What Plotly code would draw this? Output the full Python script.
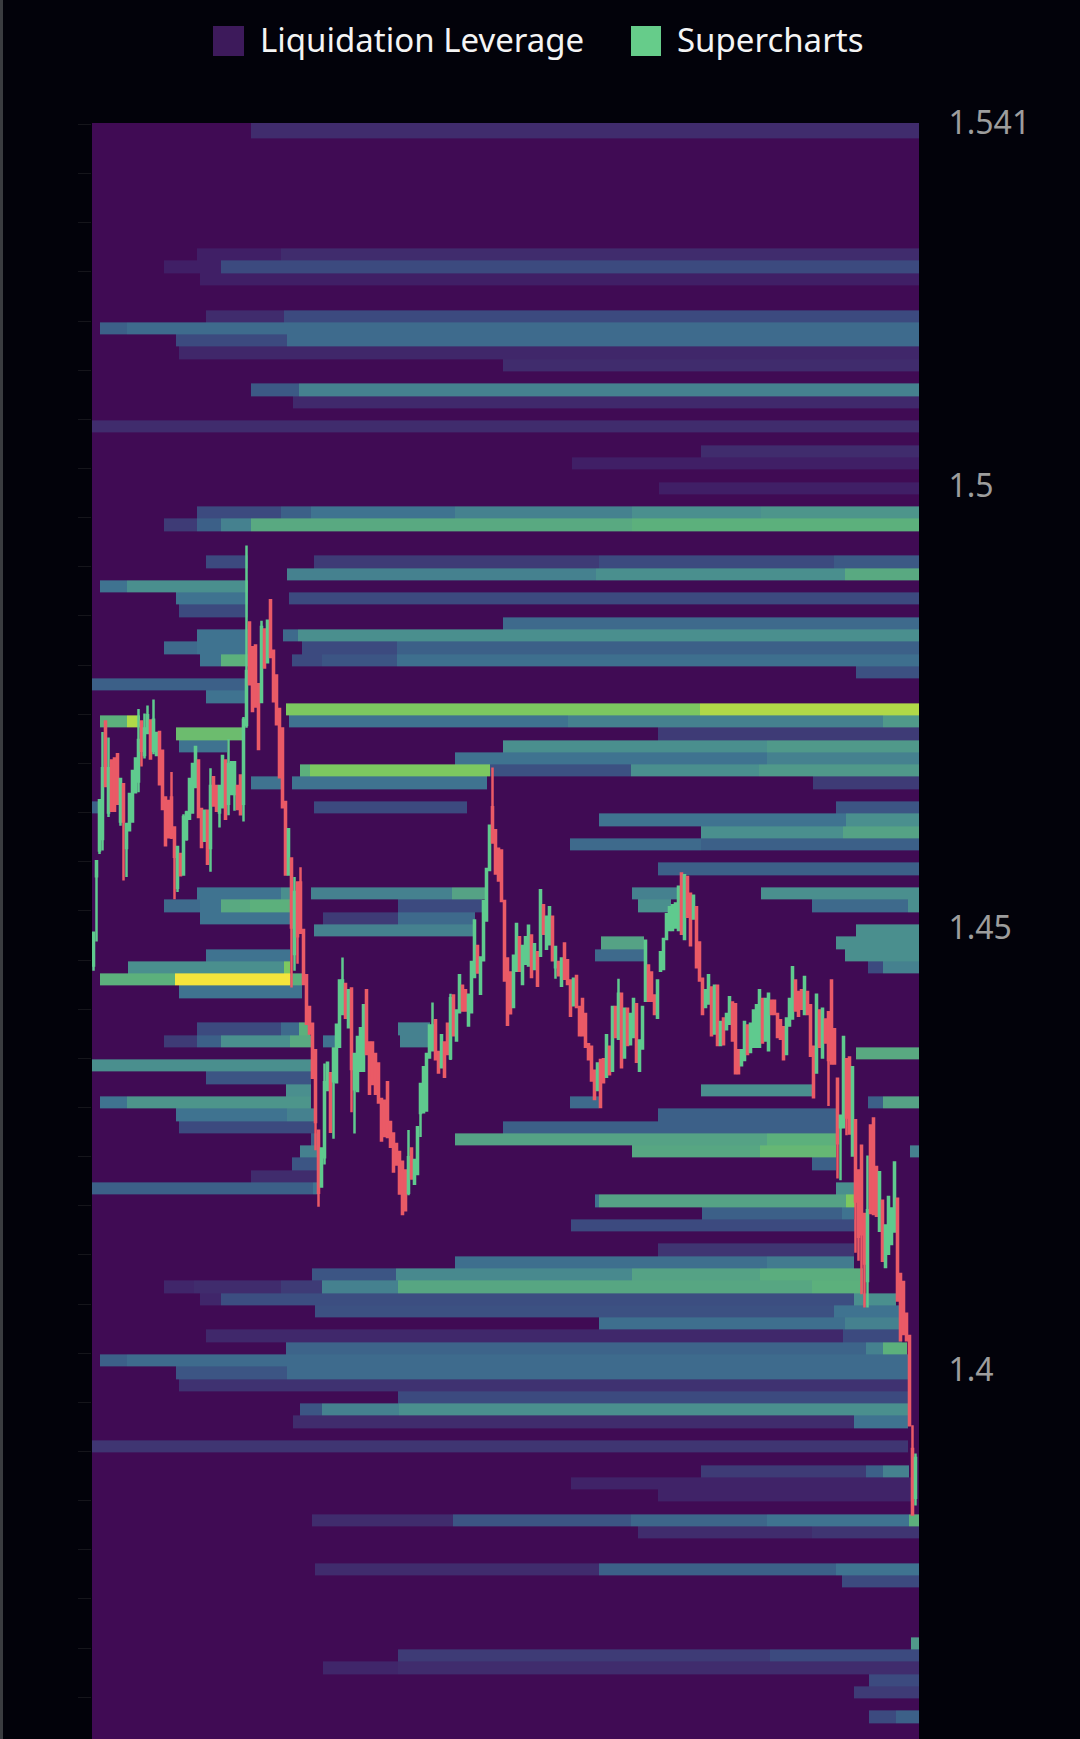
import plotly.graph_objects as go

# ---- price labels ----
TICK_VALUES = [1.541, 1.5, 1.45, 1.4]
TICK_LABELS = ["1.541", "1.5", "1.45", "1.4"]
LEGEND_LABELS = ["Liquidation Leverage", "Supercharts"]

# ---- candles ----
OPEN = [
 1.4457,1.4558,1.4587,1.4600,1.4733,1.4630,1.4689,1.4691,1.4696,1.4620,
 1.4662,1.4590,1.4610,1.4620,1.4653,1.4665,1.4733,1.4695,1.4720,1.4734,
 1.4700,1.4695,1.4721,1.4700,1.4647,1.4643,1.4647,1.4613,1.4545,1.4583,
 1.4560,1.4600,1.4623,1.4630,1.4659,1.4689,1.4634,1.4598,1.4632,1.4590,
 1.4670,1.4660,1.4630,1.4636,1.4689,1.4640,1.4651,1.4651,1.4660,1.4672,
 1.4640,1.4729,1.4845,1.4817,1.4819,1.4775,1.4755,1.4837,1.4800,1.4870,
 1.4813,1.4785,1.4747,1.4725,1.4642,1.4560,1.4578,1.4470,1.4551,1.4551,
 1.4497,1.4446,1.4410,1.4391,1.4361,1.4270,1.4207,1.4240,1.4316,1.4335,
 1.4326,1.4325,1.4365,1.4402,1.4436,1.4387,1.4431,1.4317,1.4315,1.4338,
 1.4338,1.4429,1.4370,1.4370,1.4357,1.4346,1.4306,1.4304,1.4325,1.4280,
 1.4267,1.4255,1.4246,1.4235,1.4225,1.4200,1.4250,1.4210,1.4221,1.4290,
 1.4291,1.4293,1.4353,1.4361,1.4395,1.4359,1.4342,1.4370,1.4391,1.4352,
 1.4423,1.4372,1.4404,1.4434,1.4429,1.4389,1.4404,1.4444,1.4479,1.4425,
 1.4463,1.4508,1.4565,1.4636,1.4610,1.4589,1.4587,1.4530,1.4465,1.4449,
 1.4410,1.4451,1.4489,1.4436,1.4459,1.4457,1.4491,1.4453,1.4472,1.4468,
 1.4525,1.4476,1.4481,1.4512,1.4455,1.4461,1.4434,1.4482,1.4463,1.4440,
 1.4412,1.4445,1.4410,1.4419,1.4402,1.4368,1.4365,1.4338,1.4316,1.4350,
 1.4351,1.4331,1.4365,1.4338,1.4410,1.4374,1.4425,1.4353,1.4408,1.4368,
 1.4376,1.4413,1.4338,1.4363,1.4417,1.4457,1.4449,1.4423,1.4398,1.4451,
 1.4453,1.4487,1.4497,1.4497,1.4500,1.4497,1.4561,1.4487,1.4557,1.4538,
 1.4510,1.4523,1.4483,1.4442,1.4410,1.4414,1.4432,1.4380,1.4434,1.4367,
 1.4397,1.4385,1.4391,1.4415,1.4413,1.4361,1.4344,1.4350,1.4389,1.4359,
 1.4365,1.4365,1.4365,1.4419,1.4372,1.4361,1.4417,1.4417,1.4402,1.4395,
 1.4387,1.4357,1.4389,1.4397,1.4440,1.4427,1.4429,1.4402,1.4427,1.4412,
 1.4365,1.4336,1.4406,1.4353,1.4396,1.4404,1.4440,1.4385,1.4329,1.4274,
 1.4274,1.4351,1.4353,1.4242,1.4282,1.4225,1.4253,1.4176,1.4100,1.4276,
 1.4284,1.4229,1.4157,1.4191,1.4116,1.4131,1.4142,1.4156,1.4193,1.4108,
 1.4099,1.4063,1.4038,1.3910,1.3855]
HIGH = [
 1.4494,1.4576,1.4644,1.4721,1.4733,1.4715,1.4689,1.4691,1.4696,1.4668,
 1.4662,1.4617,1.4651,1.4677,1.4691,1.4747,1.4733,1.4742,1.4751,1.4734,
 1.4758,1.4720,1.4721,1.4700,1.4647,1.4643,1.4676,1.4613,1.4591,1.4583,
 1.4628,1.4632,1.4668,1.4685,1.4704,1.4689,1.4634,1.4632,1.4632,1.4680,
 1.4670,1.4660,1.4660,1.4694,1.4689,1.4713,1.4687,1.4687,1.4660,1.4672,
 1.4738,1.4932,1.4845,1.4817,1.4819,1.4775,1.4847,1.4837,1.4847,1.4870,
 1.4813,1.4785,1.4747,1.4725,1.4642,1.4611,1.4578,1.4557,1.4551,1.4568,
 1.4497,1.4446,1.4410,1.4391,1.4361,1.4270,1.4250,1.4346,1.4347,1.4335,
 1.4363,1.4391,1.4440,1.4466,1.4436,1.4429,1.4431,1.4357,1.4376,1.4386,
 1.4412,1.4429,1.4370,1.4370,1.4357,1.4346,1.4306,1.4304,1.4325,1.4280,
 1.4267,1.4255,1.4246,1.4235,1.4225,1.4271,1.4250,1.4237,1.4274,1.4323,
 1.4342,1.4357,1.4389,1.4415,1.4395,1.4359,1.4378,1.4370,1.4391,1.4425,
 1.4423,1.4406,1.4446,1.4434,1.4429,1.4424,1.4461,1.4508,1.4479,1.4466,
 1.4530,1.4566,1.4615,1.4681,1.4610,1.4589,1.4587,1.4530,1.4465,1.4449,
 1.4468,1.4504,1.4489,1.4479,1.4489,1.4502,1.4491,1.4481,1.4472,1.4542,
 1.4525,1.4512,1.4523,1.4512,1.4478,1.4461,1.4465,1.4482,1.4463,1.4440,
 1.4442,1.4445,1.4410,1.4419,1.4402,1.4368,1.4365,1.4338,1.4346,1.4350,
 1.4351,1.4378,1.4365,1.4410,1.4410,1.4442,1.4425,1.4408,1.4408,1.4402,
 1.4419,1.4413,1.4372,1.4410,1.4485,1.4457,1.4449,1.4423,1.4440,1.4472,
 1.4487,1.4515,1.4523,1.4525,1.4527,1.4546,1.4561,1.4559,1.4557,1.4538,
 1.4536,1.4523,1.4483,1.4442,1.4429,1.4446,1.4432,1.4434,1.4434,1.4393,
 1.4397,1.4402,1.4421,1.4415,1.4413,1.4361,1.4361,1.4393,1.4389,1.4391,
 1.4406,1.4412,1.4429,1.4419,1.4419,1.4425,1.4417,1.4417,1.4402,1.4395,
 1.4387,1.4397,1.4419,1.4455,1.4440,1.4427,1.4429,1.4444,1.4427,1.4412,
 1.4365,1.4424,1.4406,1.4408,1.4396,1.4404,1.4440,1.4385,1.4329,1.4287,
 1.4376,1.4351,1.4353,1.4342,1.4282,1.4225,1.4253,1.4176,1.4242,1.4276,
 1.4284,1.4229,1.4223,1.4191,1.4163,1.4195,1.4182,1.4234,1.4193,1.4108,
 1.4099,1.4063,1.4038,1.3937,1.3905]
LOW = [
 1.4451,1.4484,1.4583,1.4587,1.4660,1.4625,1.4632,1.4632,1.4640,1.4615,
 1.4553,1.4557,1.4610,1.4620,1.4653,1.4653,1.4682,1.4691,1.4720,1.4691,
 1.4696,1.4695,1.4662,1.4634,1.4593,1.4602,1.4600,1.4532,1.4540,1.4559,
 1.4559,1.4598,1.4623,1.4630,1.4659,1.4625,1.4591,1.4598,1.4572,1.4563,
 1.4638,1.4632,1.4613,1.4636,1.4623,1.4627,1.4651,1.4632,1.4634,1.4628,
 1.4620,1.4726,1.4775,1.4745,1.4750,1.4702,1.4755,1.4794,1.4800,1.4806,
 1.4756,1.4730,1.4670,1.4636,1.4560,1.4560,1.4432,1.4451,1.4459,1.4494,
 1.4436,1.4391,1.4380,1.4330,1.4248,1.4184,1.4207,1.4232,1.4316,1.4269,
 1.4261,1.4325,1.4365,1.4402,1.4398,1.4387,1.4291,1.4267,1.4315,1.4338,
 1.4338,1.4357,1.4312,1.4323,1.4312,1.4302,1.4259,1.4264,1.4263,1.4252,
 1.4224,1.4232,1.4199,1.4176,1.4180,1.4197,1.4216,1.4210,1.4221,1.4263,
 1.4291,1.4293,1.4353,1.4361,1.4351,1.4336,1.4342,1.4331,1.4357,1.4350,
 1.4378,1.4372,1.4404,1.4406,1.4406,1.4389,1.4404,1.4444,1.4449,1.4425,
 1.4463,1.4508,1.4565,1.4596,1.4561,1.4553,1.4530,1.4440,1.4390,1.4403,
 1.4410,1.4451,1.4451,1.4436,1.4459,1.4457,1.4444,1.4453,1.4434,1.4468,
 1.4493,1.4476,1.4481,1.4463,1.4442,1.4446,1.4434,1.4442,1.4436,1.4400,
 1.4412,1.4410,1.4378,1.4378,1.4365,1.4351,1.4327,1.4306,1.4316,1.4297,
 1.4325,1.4331,1.4334,1.4338,1.4376,1.4374,1.4342,1.4353,1.4367,1.4368,
 1.4376,1.4348,1.4338,1.4363,1.4417,1.4417,1.4417,1.4402,1.4398,1.4451,
 1.4453,1.4487,1.4497,1.4497,1.4500,1.4497,1.4493,1.4487,1.4512,1.4480,
 1.4510,1.4455,1.4440,1.4402,1.4410,1.4414,1.4378,1.4380,1.4367,1.4367,
 1.4368,1.4385,1.4391,1.4372,1.4335,1.4335,1.4344,1.4350,1.4357,1.4359,
 1.4365,1.4365,1.4365,1.4370,1.4372,1.4361,1.4402,1.4402,1.4376,1.4374,
 1.4351,1.4357,1.4389,1.4397,1.4406,1.4400,1.4408,1.4402,1.4402,1.4355,
 1.4308,1.4336,1.4365,1.4353,1.4370,1.4298,1.4346,1.4346,1.4216,1.4214,
 1.4274,1.4265,1.4267,1.4242,1.4132,1.4123,1.4085,1.4070,1.4070,1.4177,
 1.4176,1.4174,1.4157,1.4123,1.4116,1.4131,1.4142,1.4156,1.4078,1.4033,
 1.4040,1.4033,1.3937,1.3836,1.3846]
CLOSE = [
 1.4494,1.4575,1.4644,1.4680,1.4660,1.4680,1.4632,1.4632,1.4640,1.4668,
 1.4620,1.4617,1.4651,1.4677,1.4691,1.4712,1.4700,1.4725,1.4740,1.4691,
 1.4735,1.4720,1.4662,1.4634,1.4593,1.4602,1.4602,1.4580,1.4591,1.4559,
 1.4625,1.4630,1.4668,1.4685,1.4704,1.4625,1.4591,1.4632,1.4572,1.4660,
 1.4638,1.4632,1.4660,1.4694,1.4623,1.4685,1.4687,1.4687,1.4634,1.4628,
 1.4735,1.4790,1.4775,1.4745,1.4750,1.4702,1.4840,1.4794,1.4847,1.4806,
 1.4756,1.4730,1.4670,1.4636,1.4560,1.4611,1.4500,1.4540,1.4490,1.4494,
 1.4436,1.4391,1.4380,1.4330,1.4280,1.4200,1.4250,1.4325,1.4347,1.4269,
 1.4363,1.4390,1.4440,1.4440,1.4398,1.4429,1.4340,1.4357,1.4376,1.4386,
 1.4412,1.4357,1.4312,1.4323,1.4312,1.4302,1.4259,1.4264,1.4263,1.4252,
 1.4224,1.4232,1.4199,1.4176,1.4180,1.4240,1.4216,1.4237,1.4274,1.4323,
 1.4342,1.4357,1.4389,1.4389,1.4351,1.4336,1.4378,1.4331,1.4357,1.4420,
 1.4378,1.4406,1.4446,1.4406,1.4406,1.4424,1.4461,1.4508,1.4449,1.4466,
 1.4530,1.4566,1.4615,1.4596,1.4561,1.4553,1.4530,1.4440,1.4390,1.4403,
 1.4468,1.4504,1.4451,1.4479,1.4489,1.4502,1.4444,1.4481,1.4434,1.4542,
 1.4493,1.4512,1.4523,1.4463,1.4478,1.4446,1.4465,1.4442,1.4436,1.4400,
 1.4442,1.4410,1.4378,1.4378,1.4365,1.4351,1.4327,1.4306,1.4346,1.4297,
 1.4325,1.4378,1.4334,1.4410,1.4376,1.4425,1.4342,1.4408,1.4367,1.4402,
 1.4419,1.4348,1.4372,1.4410,1.4485,1.4417,1.4417,1.4402,1.4440,1.4472,
 1.4487,1.4515,1.4523,1.4525,1.4527,1.4546,1.4493,1.4559,1.4512,1.4480,
 1.4536,1.4455,1.4440,1.4402,1.4429,1.4446,1.4378,1.4434,1.4367,1.4393,
 1.4368,1.4402,1.4421,1.4372,1.4335,1.4335,1.4361,1.4393,1.4357,1.4391,
 1.4406,1.4412,1.4429,1.4370,1.4419,1.4425,1.4402,1.4402,1.4376,1.4374,
 1.4351,1.4397,1.4419,1.4455,1.4406,1.4400,1.4408,1.4444,1.4402,1.4355,
 1.4308,1.4424,1.4365,1.4408,1.4370,1.4350,1.4346,1.4346,1.4256,1.4287,
 1.4376,1.4285,1.4267,1.4342,1.4190,1.4150,1.4153,1.4120,1.4180,1.4177,
 1.4176,1.4174,1.4223,1.4123,1.4163,1.4195,1.4182,1.4234,1.4078,1.4033,
 1.4040,1.4033,1.3937,1.3836,1.3900]

# ---- liquidation heat: {price row: [(from candle, intensity), ...]} ----
LIQ_BANDS = {
 0:[(53,2)],
 10:[(35,1),(63,2)],
 11:[(24,1),(43,3)],
 12:[(36,1)],
 15:[(38,2),(64,3)],
 16:[(2.5,4),(11.5,4.6)],
 17:[(28,3),(65,4.6)],
 18:[(29,1.6)],
 19:[(137,2)],
 21:[(53,3.7),(69,5.5)],
 22:[(67,1.8)],
 24:[(0,2)],
 26:[(203,2)],
 27:[(160,1)],
 29:[(189,1)],
 31:[(35,3),(63,4),(73,5),(121,5.5),(180,6),(223,6.3)],
 32:[(24,2.5),(35,4),(43,5.5),(53,7.5),(180,8)],
 35:[(38,3),(52,0),(74,2.5),(169,3),(247.5,3.7)],
 36:[(65,5.5),(168,6),(251,7.5)],
 37:[(2.5,5),(11.5,6),(52,0)],
 38:[(28,5),(52,0),(65.7,3)],
 39:[(29,3),(52,0)],
 40:[(137,4.5)],
 41:[(35,5),(52,0),(63.7,4.5),(68.7,6)],
 42:[(24,4.5),(35,5),(52,0),(70,3),(101.5,4)],
 43:[(36,5),(43,8),(52,0),(66.7,3),(76.7,3.5),(101.5,4.8)],
 44:[(254.7,3.3)],
 45:[(0,4),(52,0)],
 46:[(38,5),(52,0)],
 47:[(64.7,9),(202.7,10)],
 48:[(2.5,8),(11.5,10),(16,0),(65.7,5),(158.6,5.5),(263.6,6.5)],
 49:[(28,8.5),(50.5,0),(188.7,2.5)],
 50:[(29,5),(45,0),(137,6),(225,6.5)],
 51:[(121,5),(225,5.5)],
 52:[(69.3,8),(72.7,9),(132.7,3.3),(179.7,6),(222.4,6.5)],
 53:[(53,5),(63,0),(66.7,5),(131.7,0),(240.3,2.5)],
 55:[(0,4),(2,0),(74,3),(125,0),(248,3.5)],
 56:[(169,5),(251.5,6)],
 57:[(203,6),(250.4,7)],
 58:[(159.3,4.5),(203,4)],
 60:[(188.7,4)],
 62:[(35,5),(63,6),(66,0),(73,5.5),(120,7),(131,0),(180,5.5),(195,0),(223,6)],
 63:[(24,4.5),(36,5),(43,7.5),(52.7,8),(66,0),(102,3),(130,0),(182,6),(193,0),(240,4.5),(272,6)],
 64:[(36,5),(66,0),(77,2.5),(102,4.5),(127.7,0)],
 65:[(74,5.5),(127,0),(254.7,6)],
 66:[(169.7,7),(184,0),(248,6)],
 67:[(38,5),(66,0),(167.7,4.5),(184,0),(251,6)],
 68:[(12,6),(64,9),(66,0),(258.7,3),(263.7,5.5)],
 69:[(2.5,8),(27.7,11),(66,8),(70,0)],
 70:[(29,5),(70,0)],
 73:[(35,3),(63,4.5),(69,8),(72.7,0),(102,5.5),(112.7,0)],
 74:[(24,2.5),(35,4),(43,6),(66,7.5),(73,0),(77,5),(81.7,0),(102.7,5.5),(112,0)],
 75:[(254.7,7.5)],
 76:[(0,6),(73,0)],
 77:[(38,3.5),(73,0)],
 78:[(64.7,6),(73,0),(203,6),(240,0)],
 79:[(2.5,5),(11.7,6.3),(73,0),(159.3,4.5),(169,0),(258.7,4),(263.7,7)],
 80:[(28,5),(65,5.5),(74,0),(188.7,4),(248,0)],
 81:[(29,3),(74,0),(137,4),(248,0)],
 82:[(73,4),(76,0),(121,7),(225,8),(248,0)],
 83:[(69.3,5.5),(75,0),(180,7.3),(222.7,8.3),(248,0),(272.7,5.5)],
 84:[(66.7,3.5),(75,0),(240,4),(248,0)],
 85:[(53,2),(76,0)],
 86:[(0,4),(73.7,5),(75.5,0),(248,6),(254,0)],
 87:[(167.7,5),(169,7),(251.3,9),(254.3,0)],
 88:[(203.3,4),(250,5),(254,0)],
 89:[(159.7,3),(254.3,0)],
 91:[(188.7,2.3),(254,0)],
 92:[(121,4.8),(225,5.3),(254,0)],
 93:[(73.3,3.5),(101.3,5.8),(180,7),(222.7,7.8),(257,0)],
 94:[(24,1.5),(34,2),(63,2.5),(76.7,5.5),(102,7.3),(240,8),(257,0)],
 95:[(36,1.5),(43,3.2),(254,6),(268,0)],
 96:[(74.3,3.3),(247.3,5),(269,0)],
 97:[(169,4.8),(251,5.5),(269,0)],
 98:[(38,1.7),(250.3,3),(270,0)],
 99:[(64.7,4.2),(258,5.5),(263.7,8),(271.7,0)],
 100:[(2.5,4),(11.7,4.6),(272,0)],
 101:[(28,3.5),(65,4.6),(272,0)],
 102:[(29,2.2),(272,0)],
 103:[(102,3),(272,0)],
 104:[(69.3,3.5),(76.7,5.5),(102.3,6),(272,0)],
 105:[(67,2),(254,5),(272,0)],
 107:[(0,2.3),(272,0)],
 109:[(203,2.5),(258,4),(263.7,5.5),(272.3,0)],
 110:[(159.7,1.3),(273,0)],
 111:[(188.7,1.3),(274,0)],
 113:[(73.3,2),(120.3,3.5),(179.7,4.3),(225,5),(272.5,8)],
 114:[(182,2),(240,2.3)],
 117:[(74.3,2),(169,4),(248,5)],
 118:[(250,3)],
 123:[(273,6.5)],
 124:[(102,2.5),(226,3)],
 125:[(77,1.5),(102,2)],
 126:[(259,3)],
 127:[(254,2.5)],
 129:[(259,3),(268,4)],
}
LEVEL_COLORS = ["#400b54","#401f66","#402c6d","#3c4a7f","#3c6088","#3f7390",
                "#4a8f8e","#55a285","#5cb07c","#7cc860","#b0d948","#f4e43c"]

ROW_TOP, ROW_STEP, ROW_COUNT = 1.54071, 0.00139, 132
X_END = 275.67
Y_MIN, Y_MAX = 1.3582, 1.541

# ---- build heat grid ----
assert len(OPEN) == len(HIGH) == len(LOW) == len(CLOSE)
cuts = sorted({0.0, X_END} | {float(s) for v in LIQ_BANDS.values() for s, _ in v})
mids = [(a + b) / 2 for a, b in zip(cuts[:-1], cuts[1:])]
rows = []
for k in range(ROW_COUNT):
    segs = LIQ_BANDS.get(k, [])
    line = []
    for m in mids:
        val = 0
        for s, lv in segs:
            if s <= m:
                val = lv
        line.append(val)
    rows.append(line)
edges = [ROW_TOP - ROW_STEP * k for k in range(ROW_COUNT + 1)]
edges[0] = Y_MAX + 0.0003
edges_up = edges[::-1]
rows_up = rows[::-1]

n = len(LEVEL_COLORS) - 1
scale = [[i / n, c] for i, c in enumerate(LEVEL_COLORS)]

BG = "#02020a"
fig = go.Figure()
fig.add_trace(go.Heatmap(x=cuts, y=edges_up, z=rows_up, zmin=0, zmax=n, colorscale=scale,
                         showscale=False, hoverinfo="skip", zsmooth=False))
fig.add_trace(go.Candlestick(
    x=[i + 0.5 for i in range(len(OPEN))], open=OPEN, high=HIGH, low=LOW, close=CLOSE,
    increasing=dict(line=dict(color="#5fca8e", width=2.5), fillcolor="#5fca8e"),
    decreasing=dict(line=dict(color="#ea5a66", width=2.5), fillcolor="#ea5a66"),
    showlegend=False))
# carries the faint left-hand tick marks
fig.add_trace(go.Scatter(x=[0], y=[1.5], yaxis="y2", mode="lines", showlegend=False, hoverinfo="skip"))

W, H, L, R, T = 1080, 1739, 92, 919, 123
PW, PH = R - L, H - T
def px(x): return (x - L) / PW
def py(y): return 1 - (y - T) / PH

shapes = [
    dict(type="rect", xref="paper", yref="paper", x0=px(213), x1=px(244), y0=py(56), y1=py(26),
         fillcolor="#3d1a5b", line_width=0, layer="above"),
    dict(type="rect", xref="paper", yref="paper", x0=px(631), x1=px(661), y0=py(56), y1=py(26),
         fillcolor="#66cc8a", line_width=0, layer="above"),
    dict(type="rect", xref="paper", yref="paper", x0=px(0), x1=px(3), y0=py(1739), y1=py(0),
         fillcolor="#3a3c40", line_width=0, layer="above"),
]
annotations = [
    dict(text=LEGEND_LABELS[0], xref="paper", yref="paper", x=px(258), y=py(40), xanchor="left", yanchor="middle",
         showarrow=False, font=dict(family="Noto Sans", size=33, color="#f4f4f4")),
    dict(text=LEGEND_LABELS[1], xref="paper", yref="paper", x=px(675), y=py(40), xanchor="left", yanchor="middle",
         showarrow=False, font=dict(family="Noto Sans", size=33, color="#f4f4f4")),
]

fig.update_layout(
    width=W, height=H, margin=dict(l=L, r=W - R, t=T, b=0, autoexpand=False),
    paper_bgcolor=BG, plot_bgcolor=LEVEL_COLORS[0], showlegend=False, boxgap=0.5,
    shapes=shapes, annotations=annotations,
    xaxis=dict(range=[0, X_END], visible=False, rangeslider=dict(visible=False), fixedrange=True),
    yaxis=dict(range=[Y_MIN, Y_MAX], side="right", tickmode="array", tickvals=TICK_VALUES, ticktext=TICK_LABELS,
               showgrid=False, zeroline=False, showline=False, ticks="outside", ticklen=22, tickcolor=BG,
               tickfont=dict(family="Noto Sans", size=32, color="#9d9d9d")),
    yaxis2=dict(range=[Y_MIN, Y_MAX], overlaying="y", side="left", showgrid=False, zeroline=False, showline=False,
                showticklabels=False, tickmode="linear", tick0=1.39072, dtick=0.00556,
                ticks="outside", ticklen=13, tickwidth=1, tickcolor="#15151b"),
)
fig.write_html("out.html", config={"displayModeBar": False},
               post_script="document.body.style.margin='0';document.body.style.background='#02020a';document.body.style.overflow='hidden';")
